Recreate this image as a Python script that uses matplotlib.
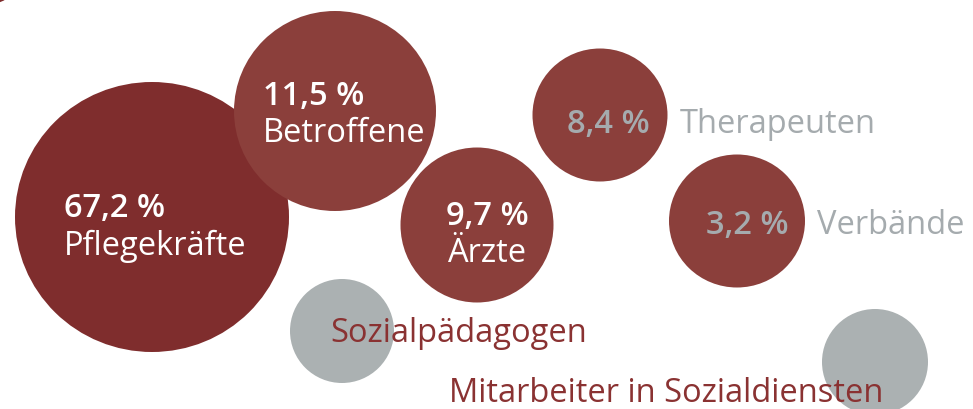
import matplotlib
matplotlib.use("Agg")
import matplotlib.pyplot as plt
from matplotlib.patches import Ellipse

plt.rcParams['font.family'] = ['Open Sans', 'DejaVu Sans']

# Bubble data (layout in pixel-like data units of the canvas)
groups = ["Pflegekräfte", "Betroffene", "Ärzte", "Therapeuten", "Verbände",
          "Sozialpädagogen", "Mitarbeiter in Sozialdiensten", ""]
values = ["67,2 %", "11,5 %", "9,7 %", "8,4 %", "3,2 %", "", "", ""]
bx = [152, 335, 477, 600, 737, 342, 875, -10]
by = [218, 112, 226, 116, 222, 332, 363, -24]
bw = [274, 202, 153, 135, 136, 104, 106, 58]
bh = [270, 200, 155, 133, 133, 104, 106, 58]
bcol = ["#7f2d2d", "#8b3f3b", "#8b3f3b", "#8b3f3b", "#8b3f3b",
        "#abb1b2", "#abb1b2", "#7f2d2d"]

W, H = 973, 410
fig = plt.figure(figsize=(W / 100, H / 100), dpi=100)
ax = fig.add_axes([0, 0, 1, 1])
ax.set_xlim(0, W)
ax.set_ylim(H, 0)
ax.set_aspect('equal')
ax.axis('off')

for x, y, w, h, c in zip(bx, by, bw, bh, bcol):
    ax.add_patch(Ellipse((x, y), w, h, color=c, lw=0))

white = "white"
grey = "#a5abae"
dred = "#8a3232"
fs = 23.5
bw_ = 'semibold'

# Pflegekräfte
ax.text(64, 217, values[0], color=white, fontsize=fs, fontweight=bw_, va='baseline')
ax.text(64, 255, groups[0], color=white, fontsize=fs, va='baseline')
# Betroffene
ax.text(263, 105, values[1], color=white, fontsize=fs, fontweight=bw_, va='baseline')
ax.text(263, 142, groups[1], color=white, fontsize=fs, va='baseline')
# Ärzte
ax.text(487, 225, values[2], color=white, fontsize=fs, fontweight=bw_, va='baseline', ha='center')
ax.text(487, 262, groups[2], color=white, fontsize=fs, va='baseline', ha='center')
# Therapeuten
ax.text(567, 133, values[3], color=grey, fontsize=fs, fontweight=bw_, va='baseline')
ax.text(680, 133, groups[3], color=grey, fontsize=fs, va='baseline')
# Verbände
ax.text(706, 234, values[4], color=grey, fontsize=fs, fontweight=bw_, va='baseline')
ax.text(817, 234, groups[4], color=grey, fontsize=fs, va='baseline')
# Sozialpädagogen
ax.text(330, 342, groups[5], color=dred, fontsize=fs, va='baseline')
# Mitarbeiter
ax.text(449, 402, groups[6], color=dred, fontsize=fs, va='baseline')

fig.savefig("out.png", dpi=100)
